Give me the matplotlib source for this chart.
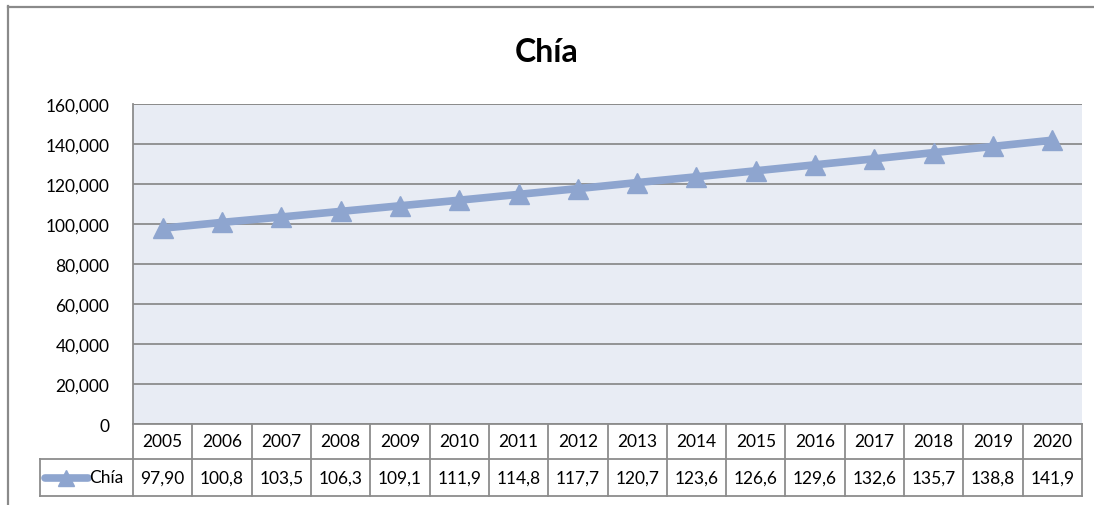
import matplotlib
matplotlib.use("Agg")
import matplotlib.pyplot as plt
from matplotlib.lines import Line2D

years = ["2005", "2006", "2007", "2008", "2009", "2010", "2011", "2012",
         "2013", "2014", "2015", "2016", "2017", "2018", "2019", "2020"]
chia = [97900, 100800, 103500, 106300, 109100, 111900, 114800, 117700,
        120700, 123600, 126600, 129600, 132600, 135700, 138800, 141900]
series_name = "Chía"
title = "Chía"

W, H = 1094, 506
line_col = "#8EA5CF"
grid_col = "#8C8C8C"
font = ["Lato", "DejaVu Sans"]
plt.rcParams["font.family"] = font

fig = plt.figure(figsize=(W / 100, H / 100), dpi=100)


def fx(px):
    return px / W


def fy(py):
    return 1 - py / H


# outer chart frame (only left/top visible in the crop)
fig.add_artist(Line2D([fx(7.5), fx(7.5)], [fy(7), fy(506)], color="#8A8A8A", lw=1.6))
fig.add_artist(Line2D([fx(7.5), fx(1094)], [fy(7.5), fy(7.5)], color="#8A8A8A", lw=1.6))

left, right, top, bottom = 133, 1082, 105, 425
ax = fig.add_axes([fx(left), fy(bottom), fx(right) - fx(left), fy(top) - fy(bottom)])
ax.set_facecolor("#E8ECF4")
x = list(range(len(years)))
ax.set_xlim(-0.5, len(years) - 0.5)
ax.set_ylim(0, 160000)
ax.set_yticks(range(0, 160001, 20000))
ax.set_yticklabels(["0" if v == 0 else f"{v:,}" for v in range(0, 160001, 20000)],
                   fontsize=12.5)
ax.tick_params(axis="y", length=0, pad=17)
ax.set_xticks([])
ax.yaxis.grid(True, color=grid_col, lw=1.3)
ax.set_axisbelow(True)
for s in ["top", "bottom", "right"]:
    ax.spines[s].set_visible(False)
ax.spines["left"].set_color(grid_col)
ax.spines["left"].set_linewidth(1.3)
ax.axhline(160000, color=grid_col, lw=1.3)
ax.plot(x, chia, color=line_col, lw=5.5, marker="^", markersize=14,
        markerfacecolor=line_col, markeredgecolor=line_col, solid_capstyle="round")

fig.text(0.5, fy(52), title, ha="center", va="center", fontsize=23, fontweight="bold")

# data table below the axis
tleft, tbot = 40, 497
unit = (right - left) / len(years)
x0 = -0.5 - (left - tleft) / unit
tax = fig.add_axes([fx(tleft), fy(tbot), fx(right) - fx(tleft), fy(bottom) - fy(tbot)])
tax.set_xlim(x0, len(years) - 0.5)
tax.set_ylim(0, 72)
tax.axis("off")
row_split = 72 - 35
kw = dict(color=grid_col, lw=1.3, clip_on=False)
tax.plot([-0.5, len(years) - 0.5], [72, 72], **kw)
tax.plot([x0, len(years) - 0.5], [row_split, row_split], **kw)
tax.plot([x0, len(years) - 0.5], [0, 0], **kw)
tax.plot([x0, x0], [0, row_split], **kw)
for i in range(len(years) + 1):
    tax.plot([i - 0.5, i - 0.5], [0, 72], **kw)
for i, (yr, v) in enumerate(zip(years, chia)):
    tax.text(i, (72 + row_split) / 2, yr, ha="center", va="center", fontsize=12.5)
    tax.text(i, row_split / 2, f"{v:,}"[:5], ha="center", va="center", fontsize=12.5)
# legend key
kx0 = x0 + 5 / unit
kx1 = x0 + 48 / unit
tax.plot([kx0, kx1], [row_split / 2, row_split / 2], color=line_col, lw=5.5,
         solid_capstyle="round", clip_on=False)
tax.plot([(kx0 + kx1) / 2], [row_split / 2], marker="^", markersize=11,
         color=line_col, clip_on=False)
tax.text(kx1 + 1 / unit, row_split / 2, series_name, ha="left", va="center", fontsize=12.5)

fig.savefig("out.png", dpi=100)
